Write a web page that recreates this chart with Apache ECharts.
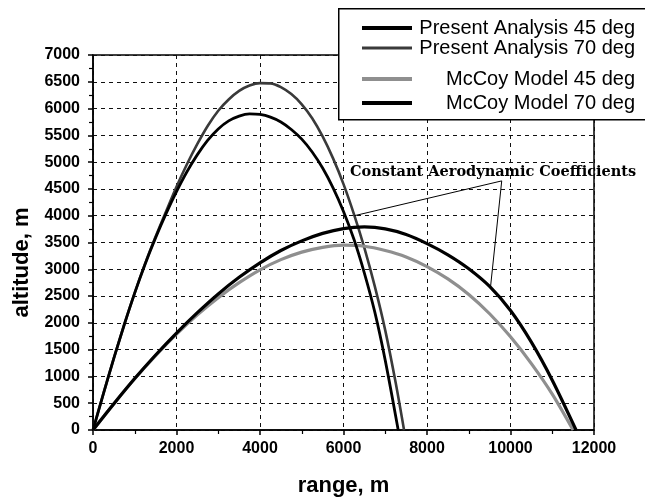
<!DOCTYPE html>
<html>
<head>
<meta charset="utf-8">
<script src="https://cdn.jsdelivr.net/npm/echarts@6/dist/echarts.min.js"></script>
<style>
  html, body { margin: 0; padding: 0; background: #fff; }
  #chart { width: 645px; height: 502px; }
</style>
</head>
<body>
<div id="chart"></div>
<script>
// Trajectories: range (m) vs altitude (m)
var presentRange45 = [0, 500, 1000, 1500, 2000, 2500, 3000, 3500, 4000, 4500, 5000, 5500, 6000, 6500, 7000, 7500, 8000, 8500, 9000, 9500, 10000, 10500, 11000, 11570];
var presentAlt45   = [0, 490, 960, 1400, 1810, 2190, 2540, 2850, 3120, 3350, 3530, 3670, 3760, 3790, 3755, 3650, 3480, 3270, 3010, 2680, 2230, 1640, 930, 0];

var presentRange70 = [0, 250, 500, 750, 1000, 1250, 1500, 1750, 2000, 2250, 2500, 2750, 3000, 3250, 3500, 3750, 4000, 4250, 4500, 4750, 5000, 5250, 5500, 5750, 6000, 6250, 6500, 6750, 7000, 7250, 7450];
var presentAlt70   = [0, 680, 1340, 1970, 2560, 3110, 3610, 4080, 4540, 4960, 5340, 5680, 5960, 6170, 6330, 6430, 6475, 6470, 6400, 6270, 6080, 5820, 5480, 5070, 4590, 4030, 3400, 2680, 1860, 880, 0];

var mccoyRange45 = [0, 500, 1000, 1500, 2000, 2500, 3000, 3500, 4000, 4500, 5000, 5500, 6000, 6500, 7000, 7500, 8000, 8500, 9000, 9500, 10000, 10500, 11000, 11500];
var mccoyAlt45   = [0, 490, 960, 1390, 1790, 2150, 2470, 2750, 2990, 3180, 3320, 3410, 3450, 3430, 3350, 3230, 3050, 2820, 2530, 2170, 1740, 1240, 670, 0];

var mccoyRange70 = [0, 250, 500, 750, 1000, 1250, 1500, 1750, 2000, 2250, 2500, 2750, 3000, 3250, 3500, 3750, 4000, 4250, 4500, 4750, 5000, 5250, 5500, 5750, 6000, 6250, 6500, 6750, 7000, 7310];
var mccoyAlt70   = [0, 680, 1340, 1970, 2560, 3100, 3590, 4040, 4450, 4820, 5140, 5410, 5620, 5770, 5860, 5900, 5890, 5840, 5750, 5610, 5430, 5190, 4890, 4520, 4080, 3560, 2930, 2200, 1300, 0];

var seriesNames = ['Present Analysis 45 deg', 'Present Analysis 70 deg', 'McCoy Model 45 deg', 'McCoy Model 70 deg'];
var seriesColors = ['#000000', '#3a3a3a', '#8f8f8f', '#000000'];

// Annotation pointing at the constant-coefficient trajectories
var noteText = 'Constant Aerodynamic Coefficients';
var noteFrom = [9790, 4650];
var noteTargets = [[6260, 4000], [9520, 2660]];

function pairs(xs, ys) {
  return xs.map(function (x, i) { return [x, ys[i]]; });
}

var chart = echarts.init(document.getElementById('chart'), null, { renderer: 'canvas' });

var legendRows = [29, 49, 80, 104];
var legendIconHeights = [4, 3, 4, 4];
var legends = seriesNames.map(function (name, i) {
  return {
    data: [name],
    left: 362,
    top: legendRows[i] - 11,
    itemWidth: 50,
    itemHeight: legendIconHeights[i],
    padding: 0,
    selectedMode: false,
    icon: 'rect',
    formatter: function (n) { return '{t|' + n + '}'; },
    textStyle: {
      rich: {
        t: { width: 218, height: 22, align: 'right', fontSize: 20, fontFamily: 'Liberation Sans, Arial, sans-serif', color: '#000' }
      }
    },
    z: 6
  };
});

var lineWidths = [3.2, 2.6, 3.2, 2.8];
var axisFont = 'Liberation Sans, Arial, sans-serif';

function plainNumber(v) { return String(v); }

function trajectory(i, xs, ys, z) {
  return {
    name: seriesNames[i], type: 'line', showSymbol: false, smooth: 0.3,
    data: pairs(xs, ys), z: z,
    lineStyle: { color: seriesColors[i], width: lineWidths[i] },
    itemStyle: { color: seriesColors[i] }
  };
}

var present45 = trajectory(0, presentRange45, presentAlt45, 4);
present45.markLine = {
  silent: true, symbol: ['none', 'arrow'], symbolSize: [0, 7],
  label: { show: false },
  lineStyle: { color: '#000', width: 1, type: 'solid' },
  data: noteTargets.map(function (t) {
    return [{ coord: noteFrom }, { coord: t }];
  })
};

var option = {
  animation: false,
  backgroundColor: '#fff',
  grid: {
    left: 93, right: 51, top: 55, bottom: 70,
    show: true, borderColor: '#000', borderWidth: 1.5, backgroundColor: 'transparent'
  },
  legend: legends,
  graphic: [
    {
      type: 'rect', left: 338, top: 8, z: 5,
      shape: { width: 320, height: 111 },
      style: { fill: '#fff', stroke: '#000', lineWidth: 1.5 }
    },
    {
      type: 'text', left: 350, top: 165, z: 4,
      style: {
        text: noteText, fill: '#000',
        font: 'bold 14.5px "DejaVu Serif", "Liberation Serif", serif'
      }
    }
  ],
  xAxis: {
    type: 'value', min: 0, max: 12000, interval: 2000,
    name: 'range, m', nameLocation: 'middle', nameGap: 45,
    nameTextStyle: { fontSize: 22, fontWeight: 'bold', fontFamily: axisFont, color: '#000' },
    axisLine: { show: true, lineStyle: { color: '#000', width: 1.5 } },
    axisTick: { show: true, length: 5, lineStyle: { color: '#000', width: 1.5 } },
    minorTick: { show: true, splitNumber: 2, length: 4, lineStyle: { color: '#000', width: 1.2 } },
    axisLabel: { margin: 11, fontSize: 16, fontWeight: 'bold', fontFamily: axisFont, color: '#000', formatter: plainNumber },
    splitLine: { show: true, lineStyle: { color: '#111', width: 1, type: [4, 4] } }
  },
  yAxis: {
    type: 'value', min: 0, max: 7000, interval: 500,
    name: 'altitude, m', nameLocation: 'middle', nameGap: 60, nameRotate: 90,
    nameTextStyle: { fontSize: 22, fontWeight: 'bold', fontFamily: axisFont, color: '#000', padding: [0, 0, 0, -40] },
    axisLine: { show: true, lineStyle: { color: '#000', width: 1.5 } },
    axisTick: { show: true, length: 5, lineStyle: { color: '#000', width: 1.5 } },
    minorTick: { show: true, splitNumber: 2, length: 4, lineStyle: { color: '#000', width: 1.2 } },
    axisLabel: { margin: 13, fontSize: 16, fontWeight: 'bold', fontFamily: axisFont, color: '#000', formatter: plainNumber },
    splitLine: { show: true, lineStyle: { color: '#111', width: 1, type: [4, 4] } }
  },
  series: [
    present45,
    trajectory(1, presentRange70, presentAlt70, 3),
    trajectory(2, mccoyRange45, mccoyAlt45, 3),
    trajectory(3, mccoyRange70, mccoyAlt70, 4)
  ]
};

chart.setOption(option);
</script>
</body>
</html>
